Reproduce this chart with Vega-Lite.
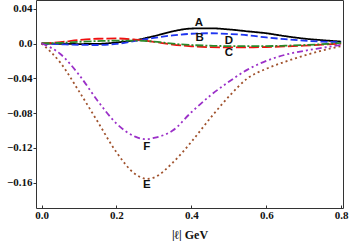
{
  "$schema": "https://vega.github.io/schema/vega-lite/v6.json",
  "width": 307,
  "height": 208,
  "autosize": "none",
  "padding": {"left": 36, "top": 0, "right": 6, "bottom": 33},
  "config": {
    "view": {"stroke": "#333", "strokeWidth": 1},
    "axis": {
      "domain": false, "grid": false,
      "labelFont": "Liberation Serif", "labelFontWeight": "bold", "labelFontSize": 11, "labelColor": "#111",
      "tickColor": "#333", "titleFont": "Liberation Serif", "titleFontWeight": "bold", "titleFontSize": 12, "titleColor": "#111"
    }
  },
  "datasets": {
    "curves": [
      {"x":0,"s":"A","y":0},{"x":0.05,"s":"A","y":-0.0003},{"x":0.1,"s":"A","y":-0.0006},{"x":0.15,"s":"A","y":-0.0004},{"x":0.2,"s":"A","y":0.0012},{"x":0.25,"s":"A","y":0.0038},{"x":0.3,"s":"A","y":0.0085},{"x":0.35,"s":"A","y":0.014},{"x":0.4,"s":"A","y":0.0172},{"x":0.45,"s":"A","y":0.0175},{"x":0.5,"s":"A","y":0.0162},{"x":0.55,"s":"A","y":0.014},{"x":0.6,"s":"A","y":0.0118},{"x":0.65,"s":"A","y":0.0085},{"x":0.7,"s":"A","y":0.0057},{"x":0.75,"s":"A","y":0.0038},{"x":0.8,"s":"A","y":0.0022},
      {"x":0,"s":"B","y":0},{"x":0.05,"s":"B","y":-0.0008},{"x":0.1,"s":"B","y":-0.0015},{"x":0.15,"s":"B","y":-0.0017},{"x":0.2,"s":"B","y":-0.0005},{"x":0.25,"s":"B","y":0.003},{"x":0.3,"s":"B","y":0.0065},{"x":0.35,"s":"B","y":0.0093},{"x":0.4,"s":"B","y":0.0112},{"x":0.45,"s":"B","y":0.0118},{"x":0.5,"s":"B","y":0.011},{"x":0.55,"s":"B","y":0.0095},{"x":0.6,"s":"B","y":0.007},{"x":0.65,"s":"B","y":0.005},{"x":0.7,"s":"B","y":0.0033},{"x":0.75,"s":"B","y":0.0022},{"x":0.8,"s":"B","y":0.0015},
      {"x":0,"s":"C","y":0},{"x":0.05,"s":"C","y":0.0015},{"x":0.1,"s":"C","y":0.004},{"x":0.15,"s":"C","y":0.0055},{"x":0.2,"s":"C","y":0.0058},{"x":0.25,"s":"C","y":0.0045},{"x":0.3,"s":"C","y":0.002},{"x":0.35,"s":"C","y":-0.0012},{"x":0.4,"s":"C","y":-0.0032},{"x":0.45,"s":"C","y":-0.0042},{"x":0.5,"s":"C","y":-0.0045},{"x":0.55,"s":"C","y":-0.0045},{"x":0.6,"s":"C","y":-0.004},{"x":0.65,"s":"C","y":-0.0033},{"x":0.7,"s":"C","y":-0.0025},{"x":0.75,"s":"C","y":-0.0013},{"x":0.8,"s":"C","y":0},
      {"x":0,"s":"D","y":0},{"x":0.05,"s":"D","y":0.0008},{"x":0.1,"s":"D","y":0.002},{"x":0.15,"s":"D","y":0.0028},{"x":0.2,"s":"D","y":0.0033},{"x":0.25,"s":"D","y":0.0033},{"x":0.3,"s":"D","y":0.0022},{"x":0.35,"s":"D","y":-0.0002},{"x":0.4,"s":"D","y":-0.0018},{"x":0.45,"s":"D","y":-0.0025},{"x":0.5,"s":"D","y":-0.003},{"x":0.55,"s":"D","y":-0.0031},{"x":0.6,"s":"D","y":-0.003},{"x":0.65,"s":"D","y":-0.0025},{"x":0.7,"s":"D","y":-0.0018},{"x":0.75,"s":"D","y":-0.0008},{"x":0.8,"s":"D","y":0.0008},
      {"x":0,"s":"E","y":0},{"x":0.05,"s":"E","y":-0.022},{"x":0.1,"s":"E","y":-0.055},{"x":0.15,"s":"E","y":-0.09},{"x":0.2,"s":"E","y":-0.125},{"x":0.25,"s":"E","y":-0.15},{"x":0.28,"s":"E","y":-0.1555},{"x":0.3,"s":"E","y":-0.154},{"x":0.35,"s":"E","y":-0.137},{"x":0.4,"s":"E","y":-0.113},{"x":0.45,"s":"E","y":-0.086},{"x":0.5,"s":"E","y":-0.061},{"x":0.55,"s":"E","y":-0.04},{"x":0.6,"s":"E","y":-0.029},{"x":0.65,"s":"E","y":-0.021},{"x":0.7,"s":"E","y":-0.014},{"x":0.75,"s":"E","y":-0.008},{"x":0.8,"s":"E","y":-0.003},
      {"x":0,"s":"F","y":0},{"x":0.05,"s":"F","y":-0.012},{"x":0.1,"s":"F","y":-0.036},{"x":0.15,"s":"F","y":-0.066},{"x":0.2,"s":"F","y":-0.092},{"x":0.25,"s":"F","y":-0.107},{"x":0.28,"s":"F","y":-0.11},{"x":0.3,"s":"F","y":-0.1085},{"x":0.35,"s":"F","y":-0.1},{"x":0.4,"s":"F","y":-0.079},{"x":0.45,"s":"F","y":-0.06},{"x":0.5,"s":"F","y":-0.044},{"x":0.55,"s":"F","y":-0.03},{"x":0.6,"s":"F","y":-0.02},{"x":0.65,"s":"F","y":-0.013},{"x":0.7,"s":"F","y":-0.0085},{"x":0.75,"s":"F","y":-0.005},{"x":0.8,"s":"F","y":-0.0015}
    ],
    "labels": [
      {"x":0.42,"y":0.0233,"t":"A"},{"x":0.422,"y":0.006,"t":"B"},{"x":0.5,"y":0.0032,"t":"D"},{"x":0.5,"y":-0.0108,"t":"C"},{"x":0.281,"y":-0.119,"t":"F"},{"x":0.281,"y":-0.163,"t":"E"}
    ]
  },
  "layer": [
    {"mark": {"type": "rule", "color": "#cccccc", "strokeWidth": 1}, "encoding": {"x": {"datum": 0, "type": "quantitative"}}},
    {"mark": {"type": "rule", "color": "#cccccc", "strokeWidth": 1}, "encoding": {"y": {"datum": 0, "type": "quantitative"}}},
    {
      "data": {"name": "curves"},
      "mark": {"type": "line", "interpolate": "monotone", "strokeWidth": 1.8, "clip": true},
      "encoding": {
        "x": {"field": "x", "type": "quantitative", "scale": {"domain": [-0.015, 0.805], "nice": false, "zero": false},
          "axis": {"values": [0, 0.2, 0.4, 0.6, 0.8], "format": ".1f", "tickSize": -3, "labelPadding": 4, "title": "|ℓ| GeV", "titlePadding": 9}},
        "y": {"field": "y", "type": "quantitative", "scale": {"domain": [-0.189, 0.05], "nice": false, "zero": false},
          "axis": {"values": [0.04, 0, -0.04, -0.08, -0.12, -0.16], "labelExpr": "datum.value == 0 ? '0.0' : format(datum.value, '.2f')", "tickSize": 3, "labelPadding": 1, "title": null}},
        "color": {"field": "s", "type": "nominal", "legend": null,
          "scale": {"domain": ["A","B","C","D","E","F"], "range": ["#000000","#1f35f0","#f01010","#2a8a2a","#a0522d","#9b30c8"]}},
        "strokeDash": {"field": "s", "type": "nominal", "legend": null,
          "scale": {"domain": ["A","B","C","D","E","F"], "range": [[1,0],[7,3],[10,3],[8,2,2,2],[2,3],[6,3,2,3,2,3]]}},
        "detail": {"field": "s"}
      }
    },
    {
      "data": {"name": "labels"},
      "mark": {"type": "text", "font": "Liberation Sans", "fontWeight": "bold", "fontSize": 11.5, "color": "#111", "baseline": "middle", "align": "center"},
      "encoding": {
        "x": {"field": "x", "type": "quantitative"},
        "y": {"field": "y", "type": "quantitative"},
        "text": {"field": "t"}
      }
    }
  ]
}
